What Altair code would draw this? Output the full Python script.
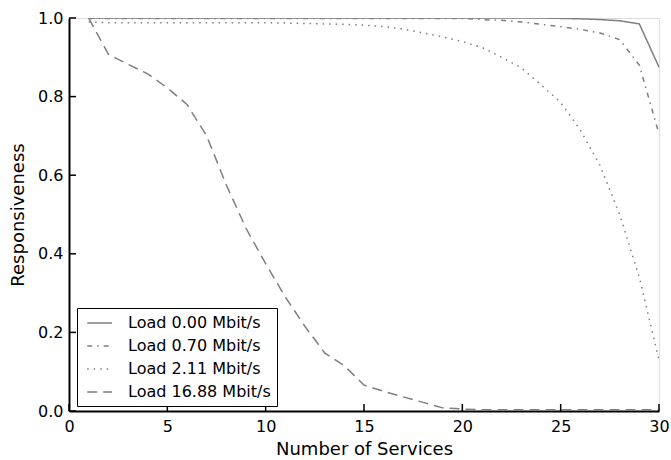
import altair as alt
import pandas as pd

services = list(range(1, 31))

load_000 = [1.0] * 24 + [0.999, 0.998, 0.996, 0.993, 0.985, 0.875]
load_070 = [0.999] * 20 + [0.996, 0.994, 0.990, 0.984, 0.978, 0.971, 0.962, 0.945, 0.880, 0.705]
load_211 = [0.990, 0.988, 0.988, 0.988, 0.988, 0.988, 0.988, 0.988, 0.988, 0.988,
            0.987, 0.986, 0.985, 0.984, 0.982, 0.978, 0.972, 0.962, 0.952, 0.940,
            0.925, 0.900, 0.873, 0.830, 0.785, 0.715, 0.625, 0.500, 0.340, 0.130]
load_1688 = [1.0, 0.908, 0.882, 0.858, 0.822, 0.780, 0.700, 0.575, 0.465, 0.375,
             0.290, 0.215, 0.148, 0.115, 0.066, 0.050, 0.036, 0.022, 0.008, 0.005,
             0.003, 0.003, 0.003, 0.003, 0.003, 0.003, 0.003, 0.003, 0.003, 0.003]

series_names = ["Load 0.00 Mbit/s", "Load 0.70 Mbit/s", "Load 2.11 Mbit/s", "Load 16.88 Mbit/s"]
series_values = [load_000, load_070, load_211, load_1688]

x_ticks = [0, 5, 10, 15, 20, 25, 30]
y_ticks = [0.0, 0.2, 0.4, 0.6, 0.8, 1.0]

rows = []
for name, vals in zip(series_names, series_values):
    for s, v in zip(services, vals):
        rows.append({"services": s, "resp": v, "series": name})
df = pd.DataFrame(rows)

W, H = 590, 393
FONT = "DejaVu Sans"
GRAY = "#7f7f7f"

xscale = alt.Scale(domain=[0, 30], nice=False, zero=False)
yscale = alt.Scale(domain=[0, 1], nice=False)

lines = alt.Chart(df).mark_line(color=GRAY, strokeWidth=1.5, clip=True).encode(
    x=alt.X("services:Q", scale=xscale,
            axis=alt.Axis(values=x_ticks, format="d", title="Number of Services",
                          tickSize=0, labelPadding=7, titlePadding=6,
                          domainColor="black", domainWidth=2,
                          labelFontSize=16, titleFontSize=18, titleFontWeight="normal",
                          labelFont=FONT, titleFont=FONT, labelColor="black", titleColor="black",
                          grid=False, labelFlush=False)),
    y=alt.Y("resp:Q", scale=yscale,
            axis=alt.Axis(values=y_ticks, format=".1f", title="Responsiveness",
                          tickSize=0, labelPadding=6, titlePadding=10,
                          domainColor="black", domainWidth=2,
                          labelFontSize=16, titleFontSize=18, titleFontWeight="normal",
                          labelFont=FONT, titleFont=FONT, labelColor="black", titleColor="black",
                          grid=False, labelFlush=False)),
    strokeDash=alt.StrokeDash(
        "series:N",
        scale=alt.Scale(domain=series_names,
                        range=[[1, 0], [5, 5, 1.5, 5], [1.5, 5], [10, 6]]),
        legend=alt.Legend(title=None, orient="none", legendX=8, legendY=290,
                          symbolType="M-0.6,0H2.5", symbolSize=256, symbolStrokeWidth=1.5,
                          symbolStrokeColor=GRAY, symbolFillColor="transparent",
                          labelFontSize=16, labelFont=FONT,
                          labelColor="black", labelOffset=27, rowPadding=6,
                          padding=6, strokeColor="black", fillColor="white",
                          cornerRadius=0),
    ),
    detail="series:N",
)

xt = pd.DataFrame({"v": x_ticks})
yt = pd.DataFrame({"v": y_ticks})

xticks = alt.Chart(xt).mark_rule(color="black", strokeWidth=1.5).encode(
    x=alt.X("v:Q", scale=xscale), y=alt.value(H), y2=alt.value(H - 7))
yticks = alt.Chart(yt).mark_rule(color="black", strokeWidth=1.5).encode(
    y=alt.Y("v:Q", scale=yscale), x=alt.value(0), x2=alt.value(7))

chart = alt.layer(lines, xticks, yticks).properties(
    width=W, height=H,
    autosize=alt.AutoSizeParams(type="none"),
    padding={"left": 69, "top": 18, "right": 12, "bottom": 49},
).configure_view(stroke=None).configure(background="white")

chart.save("out.html", embed_options={"renderer": "svg", "actions": False})
